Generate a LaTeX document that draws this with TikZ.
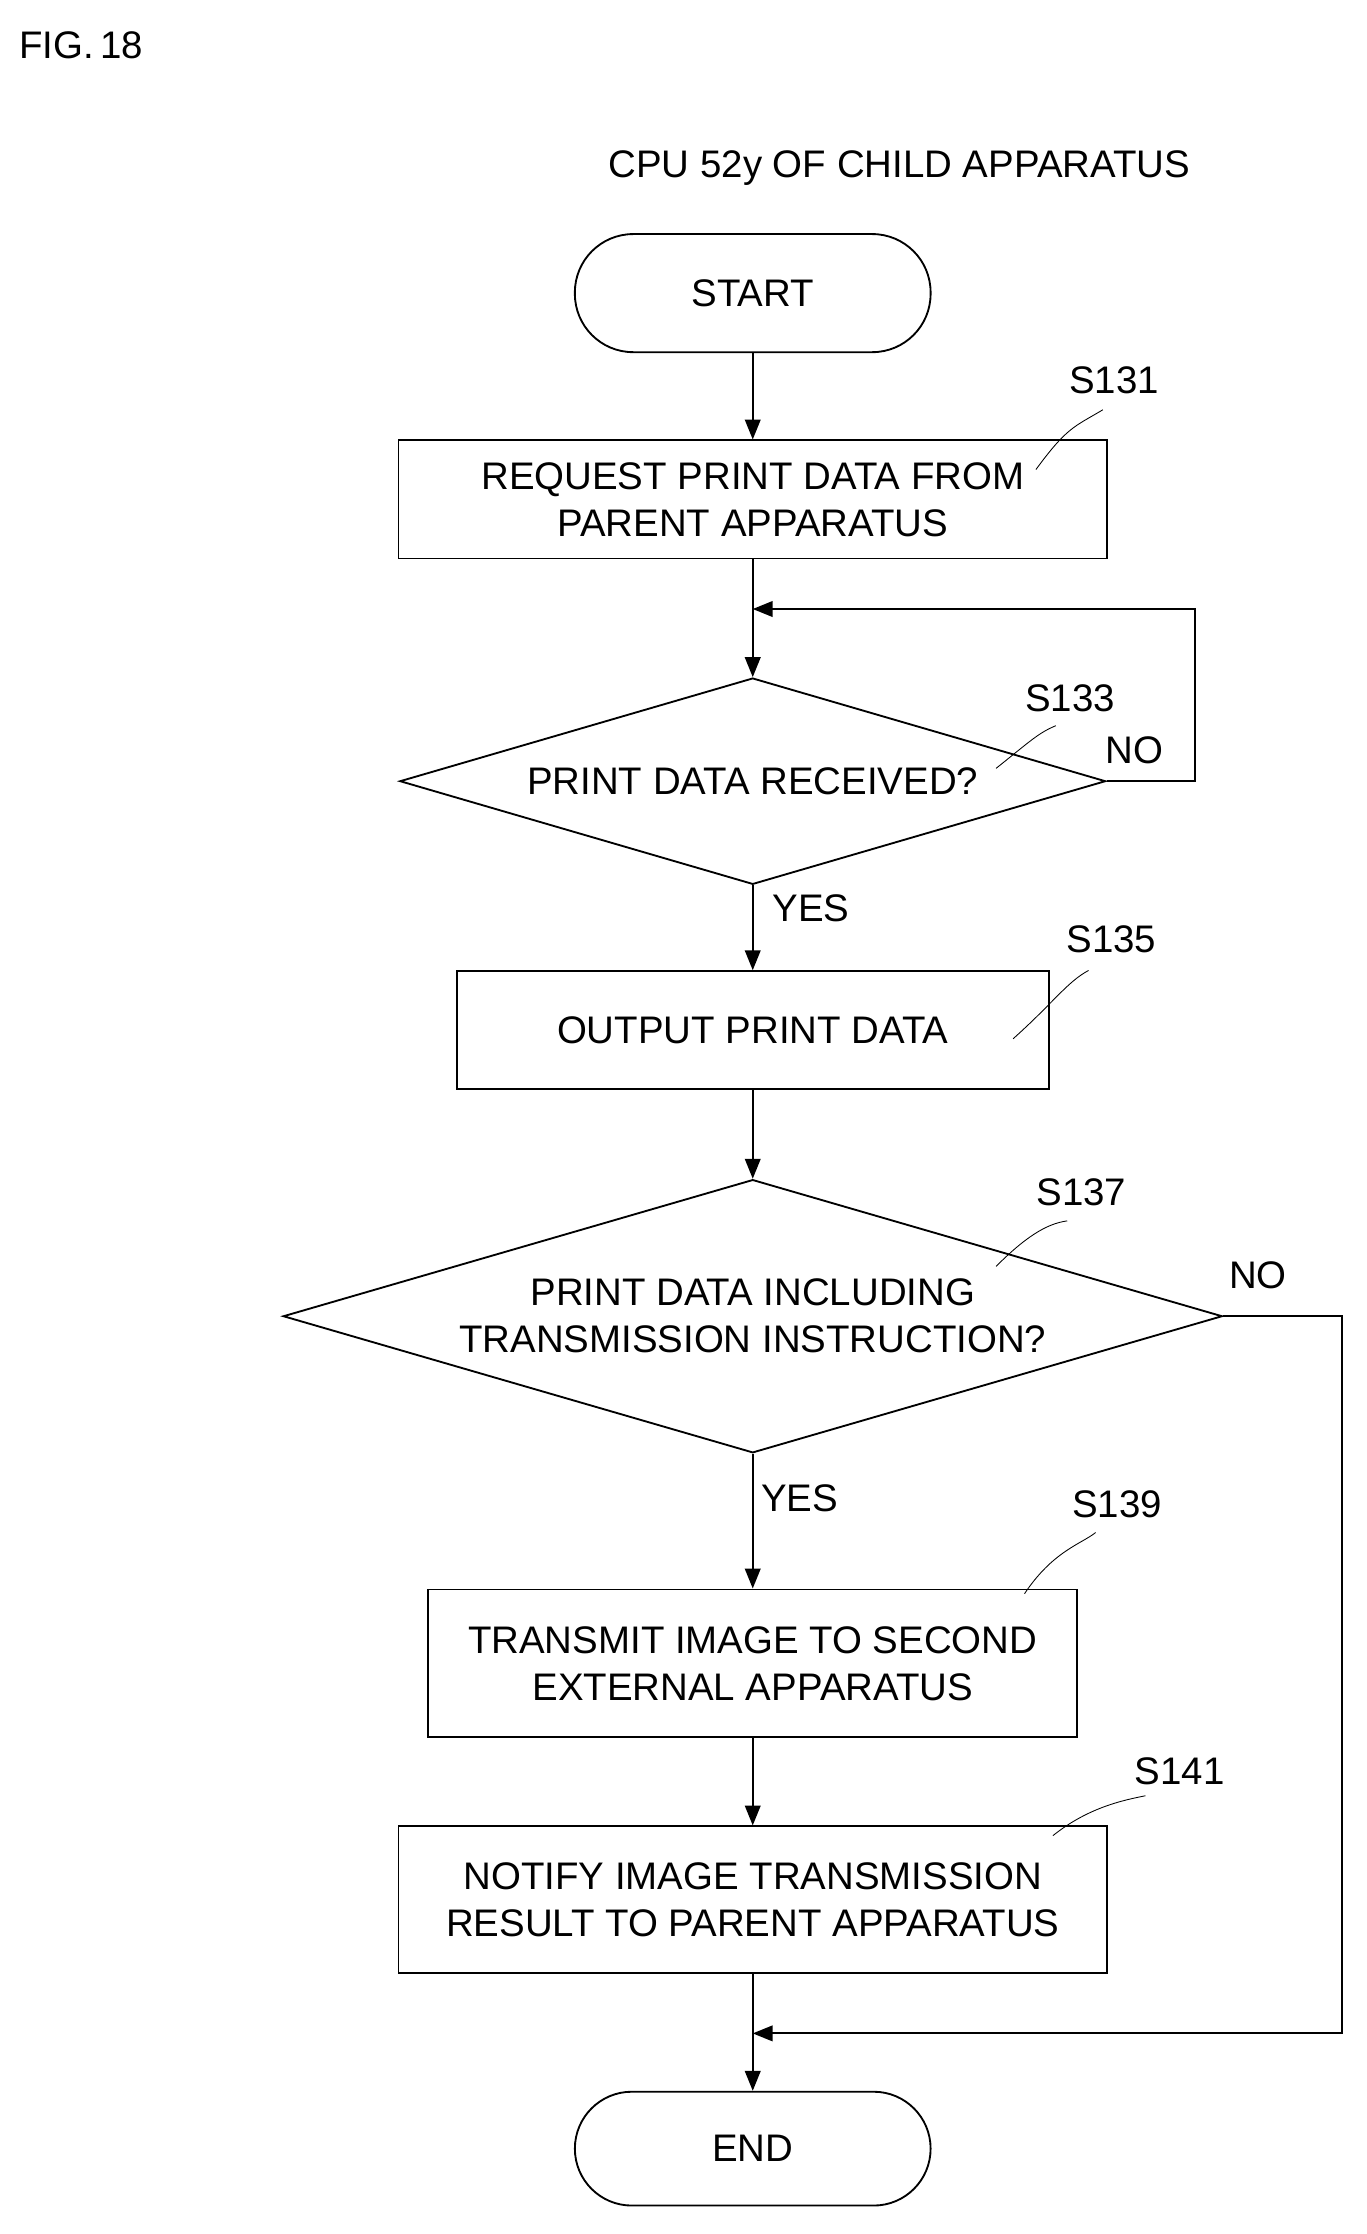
\documentclass[tikz,border=0pt]{standalone}
\usepackage{fontspec}
\setmainfont{Liberation Sans}
\usetikzlibrary{shapes.geometric,arrows.meta}
\begin{document}
\begin{tikzpicture}[x=1pt,y=-1pt,
  every node/.style={font=\fontsize{27}{33}\selectfont},
  box/.style={draw,line width=1.3pt,align=center,inner sep=0pt},
  lbl/.style={font=\fontsize{27}{33}\selectfont},
  ln/.style={line width=1.3pt},
  arr/.style={ln,-{Triangle[length=14pt,width=11pt]}},
  lead/.style={line width=0.6pt}]
\useasboundingbox (0,0) rectangle (960,1570);
\node[lbl,anchor=west] (fig) at (10,32) {FIG.\,18};
\node[lbl] (cpu) at (632,118) {CPU 52y OF CHILD APPARATUS};
\node[box,rounded corners=41pt,minimum width=250pt,minimum height=83pt] (start) at (529,206) {START};
\node[box,minimum width=498pt,minimum height=83pt] (s131) at (529,351) {REQUEST PRINT DATA FROM\\PARENT APPARATUS};
\node[box,diamond,aspect=3.42,minimum width=496pt,minimum height=145pt] (s133) at (529,549) {PRINT DATA RECEIVED?};
\node[box,minimum width=416pt,minimum height=83pt] (s135) at (529,724) {OUTPUT PRINT DATA};
\node[box,diamond,aspect=3.44,minimum width=660pt,minimum height=192pt] (s137) at (529,925) {PRINT DATA INCLUDING\\TRANSMISSION INSTRUCTION?};
\node[box,minimum width=456pt,minimum height=104pt] (s139) at (529,1169) {TRANSMIT IMAGE TO SECOND\\EXTERNAL APPARATUS};
\node[box,minimum width=498pt,minimum height=103pt] (s141) at (529,1335) {NOTIFY IMAGE TRANSMISSION\\RESULT TO PARENT APPARATUS};
\node[box,rounded corners=40pt,minimum width=250pt,minimum height=80pt] (end) at (529,1510) {END};
\coordinate (j1) at (529,428);
\coordinate (j2) at (529,1429);
\node[lbl] (t131) at (783,267) {S131};
\node[lbl] (t133) at (752,491) {S133};
\node[lbl] (t135) at (781,660) {S135};
\node[lbl] (t137) at (760,838) {S137};
\node[lbl] (t139) at (785,1057) {S139};
\node[lbl] (t141) at (829,1245) {S141};
\node[lbl] (no1) at (797,527) {NO};
\node[lbl] (yes1) at (570,638) {YES};
\node[lbl] (no2) at (884,896) {NO};
\node[lbl] (yes2) at (562,1053) {YES};
\draw[arr] (start) -- (s131);
\draw[ln] (s131) -- (j1);
\draw[arr] (j1) -- (s133.north);
\draw[arr] (s133.east) -- (840,549) -- (840,428) -- (j1);
\draw[arr] (s133.south) -- (s135);
\draw[arr] (s135) -- (s137.north);
\draw[arr] (s137.south) -- (s139);
\draw[arr] (s139) -- (s141);
\draw[ln] (s141) -- (j2);
\draw[arr] (j2) -- (end);
\draw[arr] (s137.east) -- (943,925) -- (943,1429) -- (j2);
\draw[lead] (728,330) .. controls (750,300) and (755,300) .. (775,288);
\draw[lead] (700,540) .. controls (725,520) and (730,515) .. (742,510);
\draw[lead] (712,730) .. controls (740,705) and (750,690) .. (765,682);
\draw[lead] (700,890) .. controls (720,870) and (735,860) .. (750,858);
\draw[lead] (720,1120) .. controls (740,1090) and (760,1085) .. (770,1077);
\draw[lead] (740,1290) .. controls (765,1270) and (790,1265) .. (805,1262);
\end{tikzpicture}
\end{document}
